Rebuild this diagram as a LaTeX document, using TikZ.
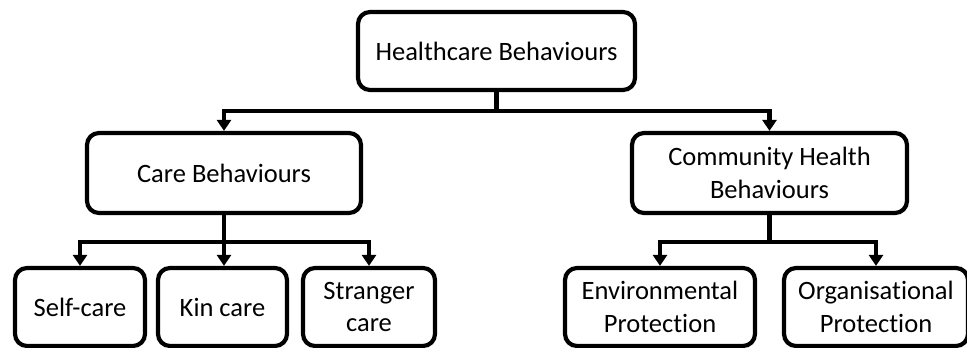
\documentclass[tikz,border=0pt]{standalone}
\usepackage{fontspec}
\setmainfont[Ligatures=NoCommon]{Carlito}
\usetikzlibrary{arrows.meta}
\begin{document}
\begin{tikzpicture}[x=1pt,y=1pt,
  box/.style={draw=black, line width=4.2pt, rounded corners=12pt, fill=white,
    align=center, font=\fontsize{26.5}{32.5}\selectfont, inner sep=2pt},
  conn/.style={line width=4.2pt, -{Triangle[width=14pt,length=11pt]}},
  plain/.style={line width=4.2pt}]
\useasboundingbox (0,0) rectangle (967,-348);
\fill[white] (0,0) rectangle (967,-348);
\node[box, minimum width=277pt, minimum height=78pt] (top) at (496.5,-51) {Healthcare Behaviours};
\node[box, minimum width=274pt, minimum height=80pt] (care) at (224,-173) {Care Behaviours};
\node[box, minimum width=275pt, minimum height=80pt] (comm) at (769.5,-173) {Community Health\\Behaviours};
\node[box, minimum width=130pt, minimum height=78pt] (self) at (80,-307) {Self-care};
\node[box, minimum width=129pt, minimum height=78pt] (kin) at (222.5,-307) {Kin care};
\node[box, minimum width=132pt, minimum height=78pt] (str) at (369,-307) {Stranger\\care};
\node[box, minimum width=190pt, minimum height=78pt] (env) at (660,-307) {Environmental\\Protection};
\node[box, minimum width=184pt, minimum height=78pt] (org) at (876,-307) {Organisational\\Protection};
\coordinate (j1) at (496.5,-111);
\coordinate (j2) at (224,-242);
\coordinate (j3) at (769.5,-242);
\draw[plain] (top.south) -- (j1);
\draw[conn] (j1) -| (care.north);
\draw[conn] (j1) -| (comm.north);
\draw[plain] (care.south) -- (j2);
\draw[conn] (j2) -| (self.north);
\draw[conn] (j2) -- (kin.north -| j2);
\draw[conn] (j2) -| (str.north);
\draw[plain] (comm.south) -- (j3);
\draw[conn] (j3) -| (env.north);
\draw[conn] (j3) -| (org.north);
\end{tikzpicture}
\end{document}
